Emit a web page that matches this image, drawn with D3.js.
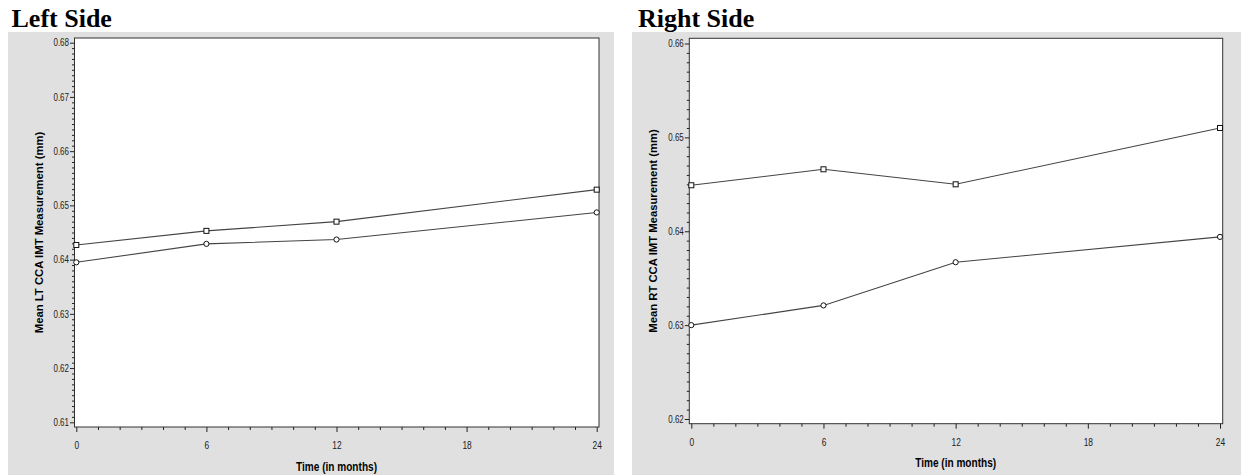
<!DOCTYPE html>
<html><head><meta charset="utf-8">
<script src="https://cdn.jsdelivr.net/npm/d3@7"></script>
<style>body{margin:0;background:#fff} svg{display:block}</style>
</head><body><svg id="chart" width="1241" height="475"></svg>
<script>
// Mean CCA IMT over time, left and right side
const months = [0, 6, 12, 24];
const leftSquares = [0.6427, 0.6453, 0.6470, 0.6529];
const leftCircles = [0.6395, 0.6429, 0.6437, 0.6487];
const rightSquares = [0.6449, 0.6466, 0.6450, 0.6510];
const rightCircles = [0.6300, 0.6321, 0.6367, 0.6394];
const xTicks = [0, 6, 12, 18, 24];
const leftYTicks = [0.61, 0.62, 0.63, 0.64, 0.65, 0.66, 0.67, 0.68];
const rightYTicks = [0.62, 0.63, 0.64, 0.65, 0.66];
const panelTitles = ["Left Side", "Right Side"];
const yTitles = ["Mean LT CCA IMT Measurement (mm)", "Mean RT CCA IMT Measurement (mm)"];
const xTitle = "Time (in months)";

const panels = [
  { title: panelTitles[0], yTitle: yTitles[0], squares: leftSquares, circles: leftCircles, yTicks: leftYTicks,
    bg: [8, 32, 606, 443], box: [74.5, 38, 599, 427], xr: [76.3, 596.7], yr: [422.3, 42.7], titleX: 11.5, yTitleX: 43 },
  { title: panelTitles[1], yTitle: yTitles[1], squares: rightSquares, circles: rightCircles, yTicks: rightYTicks,
    bg: [632, 32, 609, 443], box: [689.3, 38.3, 1222.7, 423.7], xr: [691.3, 1220], yr: [419, 43.5], titleX: 638, yTitleX: 657 }
];

const svg = d3.select("#chart");
const SX = 0.8; // horizontal squeeze for the narrow tick font

panels.forEach(p => {
  const [bx, by, bw, bh] = p.bg;
  const [l, t, r, b] = p.box;
  svg.append("rect").attr("x", bx).attr("y", by).attr("width", bw).attr("height", bh).attr("fill", "#e0e0e0");
  svg.append("rect").attr("x", l).attr("y", t).attr("width", r - l).attr("height", b - t)
    .attr("fill", "#fff").attr("stroke", "#333").attr("stroke-width", 1);

  svg.append("text").attr("x", p.titleX).attr("y", 26.5)
    .attr("font-family", "'Liberation Serif','Times New Roman',serif").attr("font-weight", "bold")
    .attr("font-size", 26).attr("fill", "#000").text(p.title);

  const lo = d3.min(p.yTicks), hi = d3.max(p.yTicks);
  const x = d3.scaleLinear().domain([0, 24]).range(p.xr);
  const y = d3.scaleLinear().domain([lo, hi]).range(p.yr);

  // y axis: majors + minors every 0.001
  const yMinor = d3.range(Math.round(lo * 1000), Math.round(hi * 1000) + 1)
    .filter(v => v % 10 !== 0).map(v => v / 1000);
  const gyMin = svg.append("g").attr("transform", `translate(${l},0)`)
    .call(d3.axisLeft(y).tickValues(yMinor).tickSize(2.5).tickFormat(""));
  const gy = svg.append("g").attr("transform", `translate(${l},0)`)
    .call(d3.axisLeft(y).tickValues(p.yTicks).tickSize(4.5).tickSizeOuter(0).tickFormat(d3.format(".2f")));
  [gyMin, gy].forEach(g => { g.select(".domain").remove(); g.selectAll("line").attr("stroke", "#222"); });
  gy.selectAll("text").attr("font-family", "'Liberation Sans',Arial,sans-serif").attr("font-size", 10)
    .attr("fill", "#222").attr("x", -5.5 / SX).attr("transform", `scale(${SX},1)`);

  // x axis: majors + monthly minors
  const xMinor = d3.range(0, 25).filter(v => v % 6 !== 0);
  const gxMin = svg.append("g").attr("transform", `translate(0,${b})`)
    .call(d3.axisBottom(x).tickValues(xMinor).tickSize(3).tickFormat(""));
  const gx = svg.append("g").attr("transform", `translate(0,${b})`)
    .call(d3.axisBottom(x).tickValues(xTicks).tickSize(5).tickSizeOuter(0).tickPadding(10));
  [gxMin, gx].forEach(g => { g.select(".domain").remove(); g.selectAll("line").attr("stroke", "#222"); });
  gx.selectAll("text").attr("font-family", "'Liberation Sans',Arial,sans-serif").attr("font-size", 10.5)
    .attr("fill", "#222").attr("transform", `scale(${SX},1)`);

  // axis titles
  const xc = x(12);
  svg.append("text").attr("transform", `translate(${xc},${b + 43.5}) scale(0.84,1)`)
    .attr("text-anchor", "middle").attr("font-family", "'Liberation Sans',Arial,sans-serif")
    .attr("font-weight", "bold").attr("font-size", 12).attr("fill", "#000").text(xTitle);
  svg.append("text").attr("transform", `translate(${p.yTitleX},${(t + b) / 2}) rotate(-90)`)
    .attr("text-anchor", "middle").attr("font-family", "'Liberation Sans',Arial,sans-serif")
    .attr("font-weight", "bold").attr("font-size", 11.3).attr("fill", "#000").text(p.yTitle);

  // series lines and markers
  const line = d3.line().x((d, i) => x(months[i])).y(d => y(d));
  [p.squares, p.circles].forEach(vals => {
    svg.append("path").datum(vals).attr("d", line).attr("fill", "none")
      .attr("stroke", "#444").attr("stroke-width", 1.1);
  });
  svg.selectAll(null).data(p.squares).enter().append("rect")
    .attr("x", (d, i) => x(months[i]) - 2.5).attr("y", d => y(d) - 2.5)
    .attr("width", 5).attr("height", 5).attr("fill", "#fff").attr("stroke", "#111").attr("stroke-width", 1);
  svg.selectAll(null).data(p.circles).enter().append("circle")
    .attr("cx", (d, i) => x(months[i])).attr("cy", d => y(d)).attr("r", 2.6)
    .attr("fill", "#fff").attr("stroke", "#111").attr("stroke-width", 1);
});
</script>
</body></html>
